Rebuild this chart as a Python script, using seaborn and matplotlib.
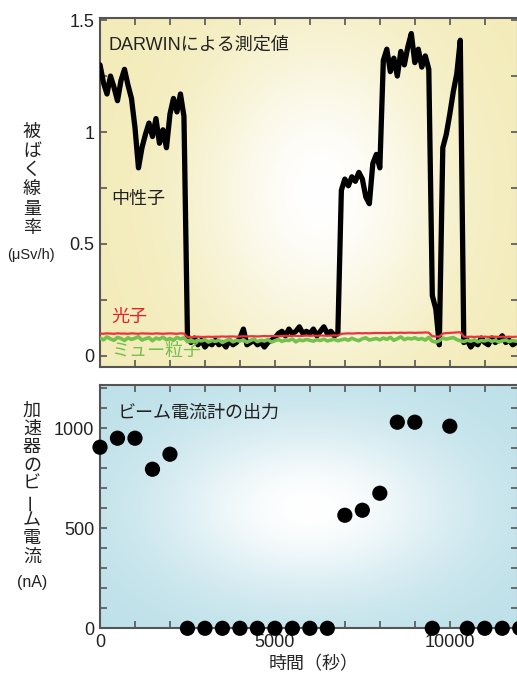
import numpy as np
import pandas as pd
import seaborn as sns
import matplotlib.pyplot as plt
from matplotlib.colors import to_rgb
from matplotlib.ticker import MultipleLocator, FixedLocator

# DARWIN dose rate readings (uSv/h), one value every 100 s from t = 0
step = 100
neutron = [
    1.30, 1.22, 1.17, 1.25, 1.20, 1.14, 1.23, 1.28, 1.21, 1.15,
    1.02, 0.84, 0.93, 0.99, 1.04, 0.98, 1.06, 0.95, 1.01, 0.93,
    1.08, 1.15, 1.09, 1.17, 1.07, 0.09, 0.06, 0.08, 0.05, 0.07,
    0.04, 0.06, 0.05, 0.07, 0.05, 0.06, 0.04, 0.07, 0.05, 0.06,
    0.08, 0.12, 0.05, 0.06, 0.07, 0.05, 0.06, 0.04, 0.06, 0.07,
    0.08, 0.10, 0.11, 0.09, 0.12, 0.10, 0.11, 0.13, 0.10, 0.11,
    0.10, 0.12, 0.09, 0.11, 0.13, 0.10, 0.11, 0.09, 0.10, 0.74,
    0.79, 0.76, 0.80, 0.78, 0.82, 0.79, 0.71, 0.68, 0.86, 0.90,
    0.84, 1.32, 1.37, 1.27, 1.33, 1.25, 1.36, 1.30, 1.38, 1.44,
    1.31, 1.37, 1.29, 1.34, 1.28, 0.27, 0.21, 0.05, 0.93, 0.99,
    1.08, 1.18, 1.26, 1.41, 0.06, 0.07, 0.04, 0.06, 0.05, 0.08,
    0.06, 0.05, 0.08, 0.06, 0.07, 0.09, 0.06, 0.07, 0.05, 0.06,
]
photon = [
    0.100, 0.099, 0.101, 0.100, 0.099, 0.101, 0.100, 0.100, 0.099, 0.101,
    0.100, 0.099, 0.101, 0.100, 0.100, 0.099, 0.101, 0.100, 0.099, 0.100,
    0.101, 0.100, 0.099, 0.101, 0.100, 0.085, 0.084, 0.085, 0.086, 0.085,
    0.085, 0.086, 0.085, 0.086, 0.086, 0.087, 0.086, 0.087, 0.087, 0.086,
    0.087, 0.088, 0.087, 0.088, 0.088, 0.087, 0.088, 0.089, 0.088, 0.089,
    0.089, 0.088, 0.089, 0.090, 0.089, 0.090, 0.090, 0.089, 0.090, 0.091,
    0.090, 0.091, 0.090, 0.091, 0.091, 0.090, 0.091, 0.092, 0.091, 0.099,
    0.100, 0.101, 0.100, 0.101, 0.102, 0.101, 0.102, 0.101, 0.102, 0.103,
    0.102, 0.103, 0.102, 0.103, 0.104, 0.103, 0.104, 0.103, 0.104, 0.104,
    0.103, 0.104, 0.104, 0.105, 0.104, 0.088, 0.087, 0.086, 0.100, 0.102,
    0.103, 0.104, 0.105, 0.106, 0.086, 0.085, 0.086, 0.085, 0.086, 0.085,
    0.086, 0.085, 0.086, 0.086, 0.085, 0.086, 0.085, 0.086, 0.085, 0.086,
]
muon = [
    0.080, 0.072, 0.085, 0.076, 0.070, 0.083, 0.078, 0.069, 0.081, 0.074,
    0.079, 0.086, 0.071, 0.077, 0.082, 0.068, 0.080, 0.075, 0.084, 0.072,
    0.078, 0.070, 0.083, 0.076, 0.081, 0.066, 0.072, 0.064, 0.070, 0.067,
    0.073, 0.062, 0.069, 0.065, 0.071, 0.060, 0.068, 0.074, 0.063, 0.070,
    0.066, 0.072, 0.061, 0.069, 0.075, 0.064, 0.070, 0.067, 0.073, 0.062,
    0.068, 0.074, 0.065, 0.071, 0.069, 0.076, 0.063, 0.072, 0.068, 0.074,
    0.070, 0.066, 0.073, 0.069, 0.075, 0.067, 0.071, 0.074, 0.068, 0.072,
    0.076, 0.070, 0.079, 0.073, 0.068, 0.077, 0.081, 0.071, 0.075, 0.078,
    0.072, 0.080, 0.074, 0.083, 0.070, 0.077, 0.085, 0.073, 0.079, 0.076,
    0.081, 0.074, 0.078, 0.071, 0.083, 0.066, 0.062, 0.068, 0.080, 0.075,
    0.079, 0.082, 0.073, 0.068, 0.064, 0.070, 0.066, 0.072, 0.063, 0.069,
    0.067, 0.073, 0.065, 0.070, 0.062, 0.068, 0.071, 0.064, 0.069, 0.066,
]

# accelerator beam current (nA)
beam_time = [0, 500, 1000, 1500, 2000, 2500, 3000, 3500, 4000, 4500, 5000,
             5500, 6000, 6500, 7000, 7500, 8000, 8500, 9000, 9500, 10000,
             10500, 11000, 11500, 12000]
beam_current = [905, 950, 950, 795, 870, 0, 0, 0, 0, 0, 0,
                0, 0, 0, 565, 590, 675, 1030, 1030, 0, 1010,
                0, 0, 0, 0]

dose = pd.DataFrame({
    "time": np.arange(len(neutron)) * step,
    "neutron": neutron,
    "photon": photon,
    "muon": muon,
})
beam = pd.DataFrame({"time": beam_time, "current": beam_current})

sns.set_theme(style="ticks")
plt.rcParams["font.family"] = ["Liberation Sans", "Noto Sans CJK JP", "DejaVu Sans"]

W, H = 517, 682
fig = plt.figure(figsize=(W / 100, H / 100), dpi=100)

def px_axes(left, top, right, bottom):
    return fig.add_axes([left / W, 1 - bottom / H, (right - left) / W, (bottom - top) / H])

ax1 = px_axes(100, 18.3, 518, 366.7)
ax2 = px_axes(100, 385, 518, 628.3)

# soft background glow (white centre fading to the panel colour)
def glow(ax, edge, cx, cy, sx, sy):
    yy, xx = np.mgrid[0:1:300j, 0:1:300j]
    w = np.exp(-(((xx - cx) / sx) ** 2 + ((yy - cy) / sy) ** 2))[..., None]
    img = np.array(to_rgb(edge)) * (1 - w) + w
    ax.imshow(img, extent=[0, 1, 0, 1], transform=ax.transAxes, origin="lower",
              aspect="auto", zorder=0, interpolation="bilinear")

glow(ax1, "#f3ebb8", 0.53, 0.50, 0.30, 0.45)
glow(ax2, "#bde0e9", 0.50, 0.49, 0.36, 0.36)

# top panel: dose rates
sns.lineplot(data=dose, x="time", y="neutron", ax=ax1, color="black", lw=3.8,
             zorder=3, solid_joinstyle="round")
sns.lineplot(data=dose, x="time", y="muon", ax=ax1, color="#74c14e", lw=2.6, zorder=4)
sns.lineplot(data=dose, x="time", y="photon", ax=ax1, color="#e8343a", lw=1.6, zorder=5)

ax1.set_xlim(0, 11950)
ax1.set_ylim(-0.048, 1.508)
ax1.xaxis.set_major_locator(MultipleLocator(1000))
ax1.set_xticklabels([])
ax1.yaxis.set_major_locator(FixedLocator([0, 0.5, 1, 1.5]))
ax1.set_yticklabels(["0", "0.5", "1", "1.5"])
ax1.yaxis.set_minor_locator(MultipleLocator(0.25))

ax1.text(230, 1.39, "DARWINによる測定値", fontsize=13, va="center", color="#222")
ax1.text(330, 0.70, "中性子", fontsize=13, va="center", color="#222")
ax1.text(330, 0.17, "光子", fontsize=13, va="center", color="#e8202a")
ax1.text(330, 0.02, "ミュー粒子", fontsize=13, va="center", color="#74c14e", zorder=6)

# bottom panel: beam current
sns.scatterplot(data=beam, x="time", y="current", ax=ax2, color="black", s=120,
                edgecolor="none", zorder=3, clip_on=False)

ax2.set_xlim(0, 11950)
ax2.set_ylim(0, 1216)
ax2.xaxis.set_major_locator(FixedLocator([0, 5000, 10000]))
ax2.xaxis.set_minor_locator(MultipleLocator(1000))
ax2.yaxis.set_major_locator(FixedLocator([0, 500, 1000]))
ax2.yaxis.set_minor_locator(MultipleLocator(100))
ax2.text(515, 1075, "ビーム電流計の出力", fontsize=13, va="center", color="#222")
ax2.set_xlabel("時間（秒）", fontsize=13)
ax2.xaxis.set_label_coords(0.51, -0.115)

for ax in (ax1, ax2):
    ax.set_ylabel("")
    if ax is ax1:
        ax.set_xlabel("")
    for sp in ax.spines.values():
        sp.set_linewidth(1.5)
        sp.set_color("#555555")
        sp.set_visible(True)
    ax.tick_params(which="both", direction="in", top=True, right=True,
                   length=5, width=1.2, color="#555555", labelsize=13, pad=4,
                   labelcolor="#222222")

# vertical axis titles, one character per line
def vtext(chars, x, y0, dy):
    for i, ch in enumerate(chars):
        rot = 90 if ch == "ー" else 0
        fig.text(x / W, 1 - (y0 + i * dy) / H, ch, fontsize=13, ha="center",
                 va="center", rotation=rot, color="#222")

vtext("被ばく線量率", 32, 132, 19.4)
fig.text(31 / W, 1 - 255 / H, "(μSv/h)", fontsize=10.5, ha="center", va="center",
         color="#222")
vtext("加速器のビーム電流", 32, 411, 18.25)
fig.text(32 / W, 1 - 582 / H, "(nA)", fontsize=11.5, ha="center", va="center",
         color="#222")

fig.savefig("out.png", dpi=100)
